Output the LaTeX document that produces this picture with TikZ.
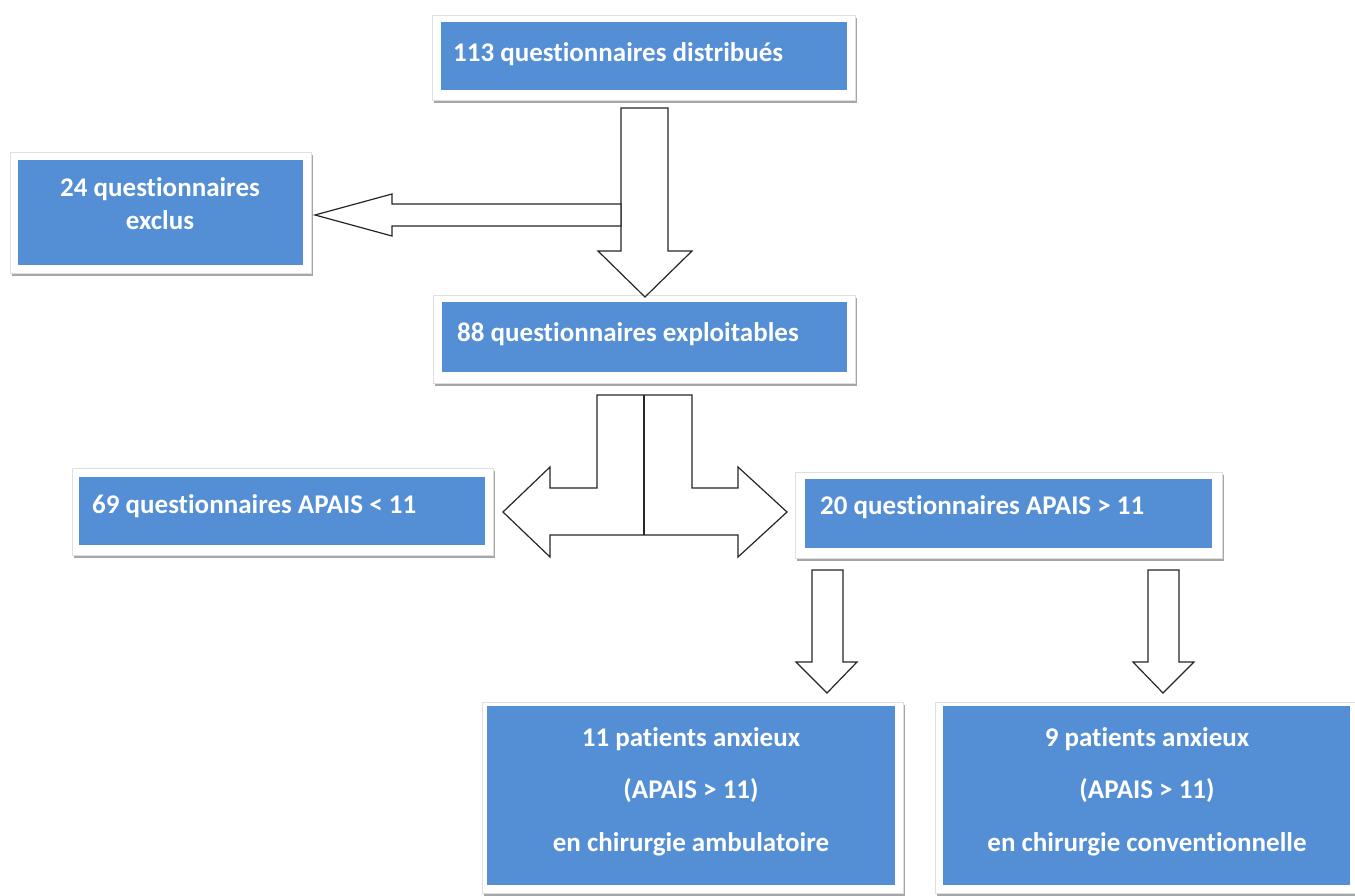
\documentclass[tikz,border=0pt]{standalone}
\usepackage{fontspec}
\setmainfont{Carlito}[Ligatures=NoCommon]
\definecolor{boxblue}{RGB}{84,142,212}
\begin{document}
\begin{tikzpicture}[x=1pt,y=-1pt,
  frame/.style={fill=white,draw=gray!25,line width=0.8pt},
  shad/.style={fill=gray!70,draw=none},
  bluebox/.style={fill=boxblue,draw=none,inner sep=0pt,anchor=north west},
  txt/.style={text=white,font=\fontsize{27}{32}\selectfont\bfseries,inner sep=0pt},
  barrow/.style={fill=white,draw=black!85,line width=1.2pt,line join=miter}]
\useasboundingbox (0,0) rectangle (1355,895);
\fill[white] (0,0) rectangle (1355,895);

% Box A
\fill[shad] (434,18) rectangle (857,103);
\draw[frame] (432,15) rectangle (855,100);
\node[bluebox,minimum width=406pt,minimum height=68pt] (A) at (441,22) {};
\node[txt,anchor=base west] (At) at (453,61) {113 questionnaires distribués};

% Box B
\fill[shad] (12,155) rectangle (313,276);
\draw[frame] (10,152) rectangle (311,273);
\node[bluebox,minimum width=285pt,minimum height=105pt] (B) at (18,160) {};
\node[txt,anchor=base] (Bt1) at (160,196) {24 questionnaires};
\node[txt,anchor=base] (Bt2) at (160,229) {exclus};

% Box C
\fill[shad] (435,298) rectangle (857,386);
\draw[frame] (433,295) rectangle (855,383);
\node[bluebox,minimum width=405pt,minimum height=70pt] (C) at (442,302) {};
\node[txt,anchor=base west] (Ct) at (457,341) {88 questionnaires exploitables};

% Box D
\fill[shad] (74,471) rectangle (495,558);
\draw[frame] (72,468) rectangle (493,555);
\node[bluebox,minimum width=406pt,minimum height=68pt] (D) at (79,477) {};
\node[txt,anchor=base west] (Dt) at (92,513) {69 questionnaires APAIS < 11};

% Box E
\fill[shad] (797,475) rectangle (1224,561);
\draw[frame] (795,472) rectangle (1222,558);
\node[bluebox,minimum width=407pt,minimum height=69pt] (E) at (805,479) {};
\node[txt,anchor=base west] (Et) at (820,514) {20 questionnaires APAIS > 11};

% Box F
\fill[shad] (484,705) rectangle (905,896);
\draw[frame] (482,702) rectangle (903,893);
\node[bluebox,minimum width=408pt,minimum height=179pt] (F) at (487,706) {};
\node[txt,anchor=base] (Ft1) at (691,746) {11 patients anxieux};
\node[txt,anchor=base] (Ft2) at (691,798) {(APAIS > 11)};
\node[txt,anchor=base] (Ft3) at (691,851) {en chirurgie ambulatoire};

% Box G
\fill[shad] (937,705) rectangle (1357,896);
\draw[frame] (935,702) rectangle (1355,893);
\node[bluebox,minimum width=407pt,minimum height=179pt] (G) at (943,706) {};
\node[txt,anchor=base] (Gt1) at (1147,746) {9 patients anxieux};
\node[txt,anchor=base] (Gt2) at (1147,798) {(APAIS > 11)};
\node[txt,anchor=base] (Gt3) at (1147,851) {en chirurgie conventionnelle};

% Arrow A -> C
\draw[barrow] (621,108) -- (668,108) -- (668,251) -- (692,251) -- (645,297) -- (598,251) -- (621,251) -- cycle;
% Arrow to B
\draw[barrow] (621,204) -- (392,204) -- (392,194) -- (315,215) -- (392,236) -- (392,226) -- (621,226) -- cycle;

% Double arrow C -> D, E
\draw[barrow] (597,395) -- (692,395) -- (692,488) -- (738,488) -- (738,467) -- (787,512) -- (738,557) -- (738,535)
  -- (550,535) -- (550,557) -- (503,512) -- (550,467) -- (550,488) -- (597,488) -- cycle;
\draw[black!85,line width=1.2pt] (644,395) -- (644,535);

% Arrows E -> F, G
\draw[barrow] (812,570) -- (843,570) -- (843,662) -- (857,662) -- (827,693) -- (796,662) -- (812,662) -- cycle;
\draw[barrow] (1148,570) -- (1179,570) -- (1179,662) -- (1194,662) -- (1163,693) -- (1133,662) -- (1148,662) -- cycle;
\end{tikzpicture}
\end{document}
